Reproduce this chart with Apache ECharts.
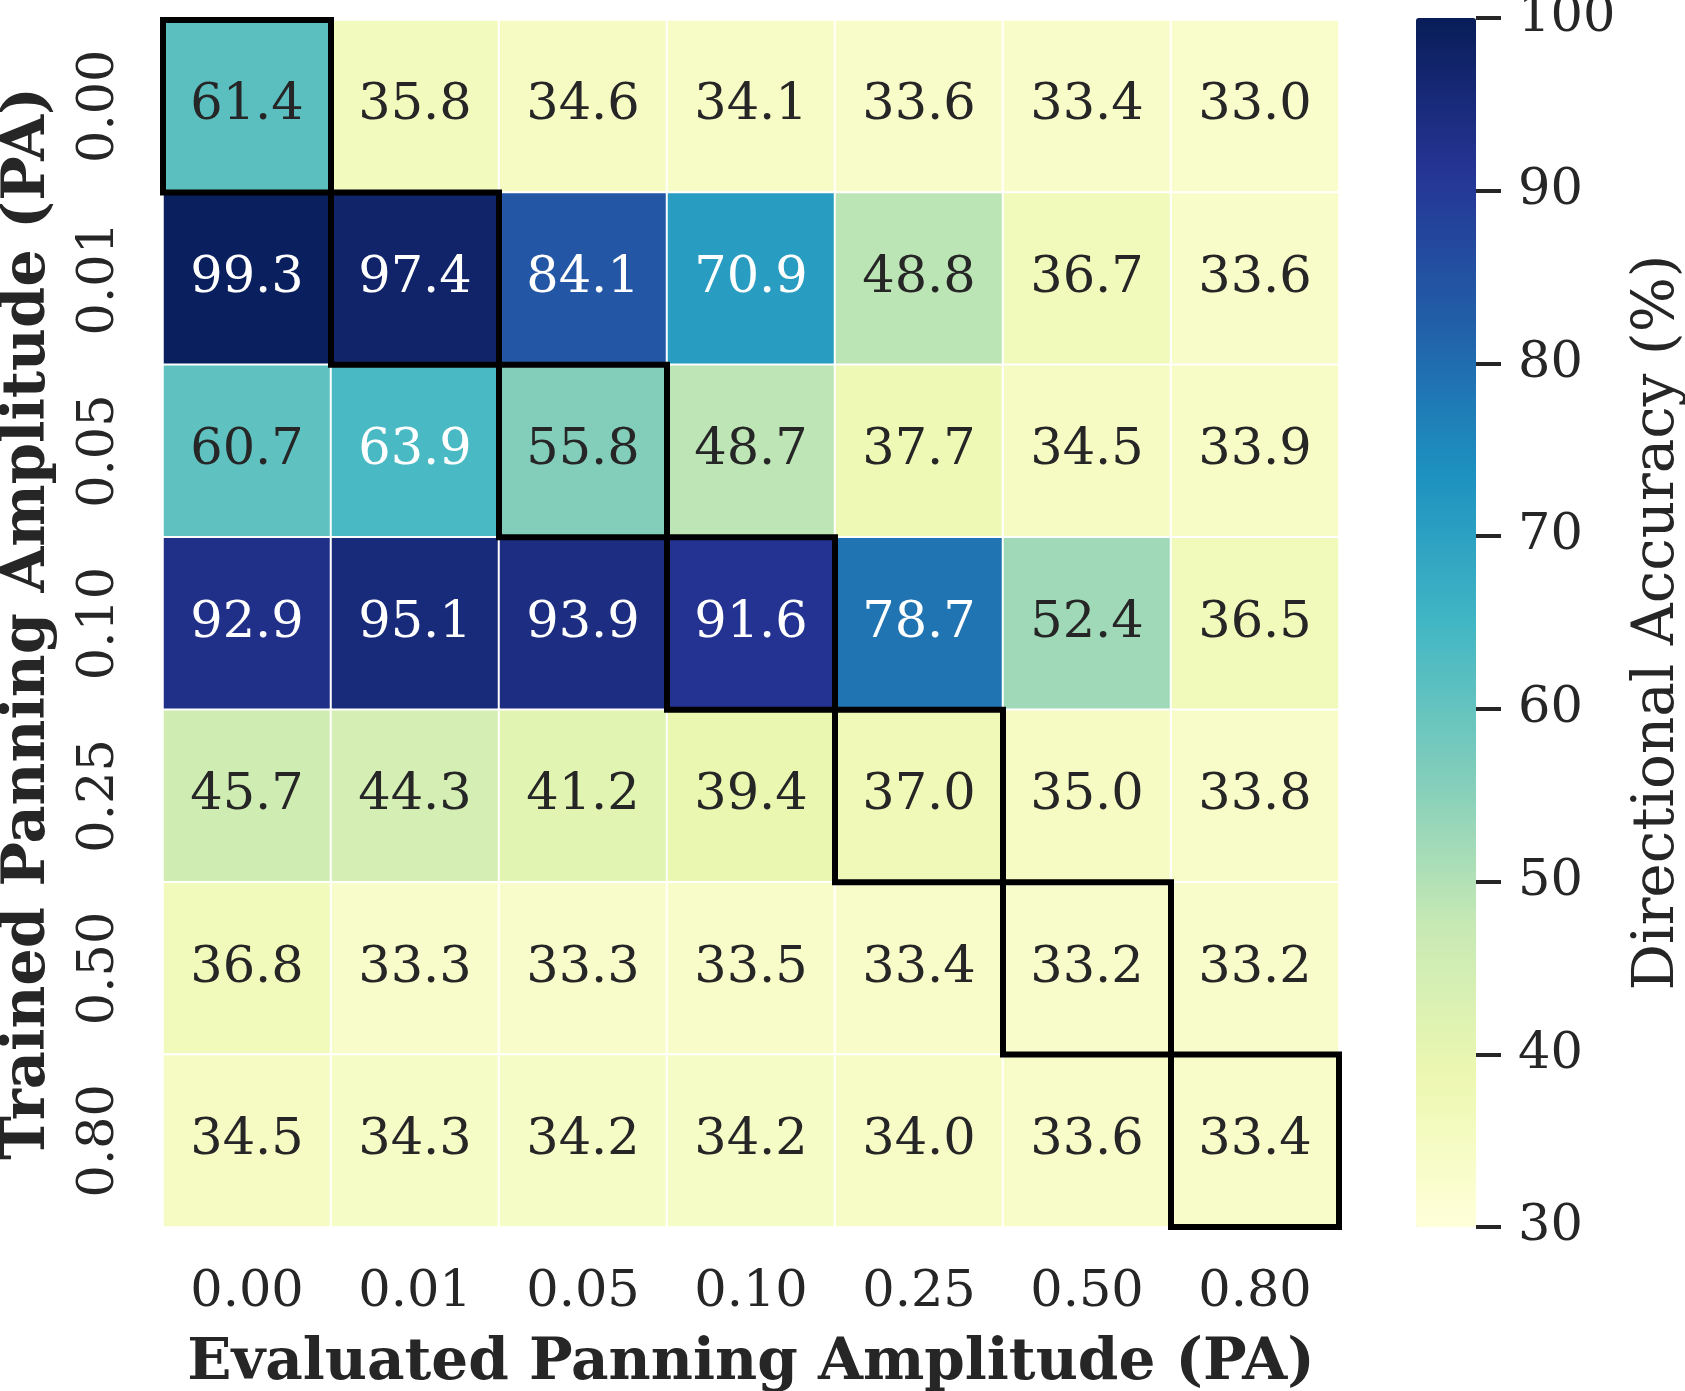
<!DOCTYPE html>
<html lang="en">
<head>
    <meta charset="UTF-8">
    <title>Directional Accuracy heatmap</title>
    <script src="https://cdn.jsdelivr.net/npm/echarts@6/dist/echarts.min.js"></script>
</head>
<body style="margin:0;background:#fff;">
<div id="main" style="width:1685px;height:1391px;"></div>
<script type="text/javascript">
    // tick labels (panning amplitude)
    var evalPA = ['0.00', '0.01', '0.05', '0.10', '0.25', '0.50', '0.80'];
    var trainPA = ['0.00', '0.01', '0.05', '0.10', '0.25', '0.50', '0.80'];

    // one array per trained PA row, values per evaluated PA
    var row000 = [61.4, 35.8, 34.6, 34.1, 33.6, 33.4, 33.0];
    var row001 = [99.3, 97.4, 84.1, 70.9, 48.8, 36.7, 33.6];
    var row005 = [60.7, 63.9, 55.8, 48.7, 37.7, 34.5, 33.9];
    var row010 = [92.9, 95.1, 93.9, 91.6, 78.7, 52.4, 36.5];
    var row025 = [45.7, 44.3, 41.2, 39.4, 37.0, 35.0, 33.8];
    var row050 = [36.8, 33.3, 33.3, 33.5, 33.4, 33.2, 33.2];
    var row080 = [34.5, 34.3, 34.2, 34.2, 34.0, 33.6, 33.4];
    var rows = [row000, row001, row005, row010, row025, row050, row080];

    var cbTicks = [30, 40, 50, 60, 70, 80, 90, 100];

    var FONT = 'DejaVu Serif';
    var DARK = '#262626';
    var ylgnbu = ['#ffffd9', '#edf8b1', '#c7e9b4', '#7fcdbb', '#41b6c4', '#1d91c0', '#225ea8', '#253494', '#081d58'];

    var heat = [];
    rows.forEach(function (r, yi) {
        r.forEach(function (v, xi) {
            heat.push({
                value: [xi, yi, v],
                label: {color: v > 62.5 ? '#ffffff' : DARK}
            });
        });
    });
    // matched train/eval cells (diagonal) get a black frame
    var diag = [];
    evalPA.forEach(function (p, i) {
        var j = trainPA.indexOf(p);
        if (j >= 0) diag.push([i, j]);
    });

    var myChart = echarts.init(document.getElementById('main'));
    var option = {
        backgroundColor: '#ffffff',
        animation: false,
        grid: [
            {left: 163, top: 20, width: 1176, height: 1207, outerBoundsMode: 'none', containLabel: false},
            // colorbar tick strip: split lines act as the ticks
            {left: 1476, top: 18, width: 25, height: 1209, outerBoundsMode: 'none', containLabel: false}
        ],
        xAxis: [{
            type: 'category', data: evalPA, gridIndex: 0, position: 'bottom',
            axisLine: {show: false}, axisTick: {show: false}, splitLine: {show: false},
            axisLabel: {fontFamily: FONT, fontSize: 51, color: DARK, margin: 40},
            name: 'Evaluated Panning Amplitude (PA)', nameLocation: 'middle', nameGap: 108,
            nameTextStyle: {fontFamily: FONT, fontSize: 58, fontWeight: 'bold', color: DARK}
        }, {
            type: 'value', gridIndex: 1, show: false, min: 0, max: 1
        }],
        yAxis: [{
            type: 'category', data: trainPA, gridIndex: 0, inverse: true,
            axisLine: {show: false}, axisTick: {show: false}, splitLine: {show: false},
            axisLabel: {fontFamily: FONT, fontSize: 51, color: DARK, rotate: 90, margin: 38},
            name: 'Trained Panning Amplitude (PA)', nameLocation: 'middle', nameGap: 105, nameRotate: 90,
            nameTextStyle: {fontFamily: FONT, fontSize: 59, fontWeight: 'bold', color: DARK}
        }, {
            type: 'value', gridIndex: 1, position: 'right', min: cbTicks[0], max: cbTicks[cbTicks.length - 1], interval: 10,
            axisLine: {show: false}, axisTick: {show: false},
            splitLine: {show: true, lineStyle: {color: DARK, width: 4}},
            axisLabel: {fontFamily: FONT, fontSize: 51, color: DARK, margin: 17},
            name: 'Directional Accuracy (%)', nameLocation: 'middle', nameGap: 128, nameRotate: 90,
            nameTextStyle: {fontFamily: FONT, fontSize: 58, color: DARK}
        }],
        visualMap: {
            type: 'continuous', min: 30, max: 100, calculable: false,
            left: 1416, top: 18, itemWidth: 60, itemHeight: 1209, padding: 0,
            seriesIndex: 0, inRange: {color: ylgnbu}
        },
        series: [{
            type: 'heatmap', xAxisIndex: 0, yAxisIndex: 0, data: heat,
            itemStyle: {borderColor: '#ffffff', borderWidth: 2},
            label: {show: true, fontFamily: FONT, fontSize: 51,
                formatter: function (p) { return p.value[2].toFixed(1); }},
            emphasis: {disabled: true}
        }, {
            type: 'custom', xAxisIndex: 0, yAxisIndex: 0, data: diag, z: 10, clip: false,
            renderItem: function (params, api) {
                var c = api.coord([api.value(0), api.value(1)]);
                var s = api.size([1, 1]);
                return {
                    type: 'rect',
                    shape: {x: c[0] - s[0] / 2, y: c[1] - s[1] / 2, width: s[0], height: s[1]},
                    style: {fill: null, stroke: '#000000', lineWidth: 6}
                };
            }
        }]
    };
    myChart.setOption(option, true);
</script>
</body>
</html>
